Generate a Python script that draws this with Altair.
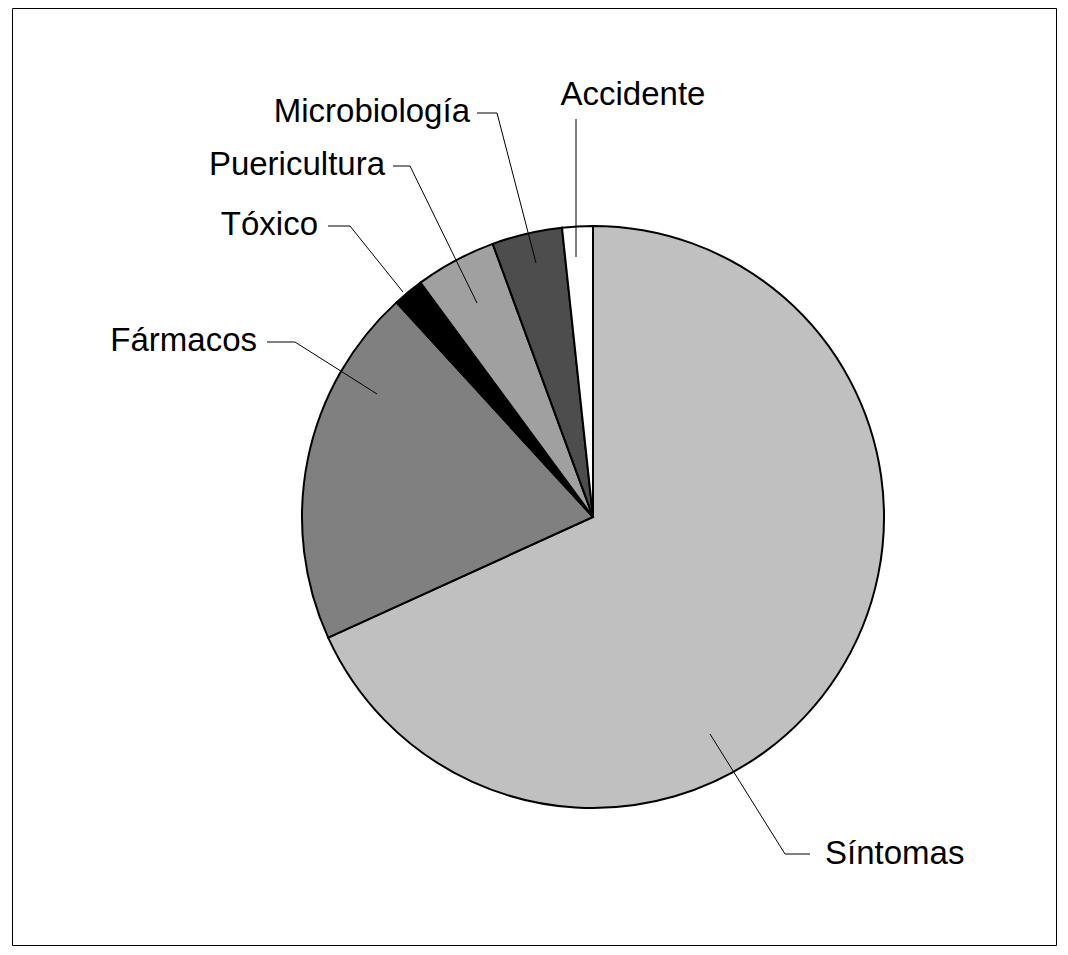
import altair as alt
import pandas as pd

# ---- data ----
categories = ["Síntomas", "Fármacos", "Tóxico", "Puericultura", "Microbiología", "Accidente"]
values = [68.2, 20.0, 1.7, 4.5, 3.9, 1.7]
colors = ["#c0c0c0", "#808080", "#000000", "#a0a0a0", "#4d4d4d", "#ffffff"]

# ---- layout of the labels (pixels relative to the pie centre, y downwards) ----
anchor_x = [117, -216, -190, -116, -57, -17]
anchor_y = [217, -123, -225, -214, -254, -260]
elbow_x = [192, -298, -243, -183, -96, -17]
elbow_y = [337, -175, -291, -351, -404, -398]
end_x = [217, -326, -265, -200, -116, -17]
end_y = [337, -175, -291, -351, -404, -398]
text_x = [232, -336, -275, -208, -123, 40]
text_y = [337, -176, -292, -352, -405, -422]
text_align = ["left", "right", "right", "right", "right", "center"]

W, H = 1044, 937
CX, CY = 581, 509
R = 291
FONT = "Liberation Sans"
FS = 33

pie_df = pd.DataFrame({"cat": categories, "val": values, "idx": list(range(len(categories)))})

line_rows = []
for i, c in enumerate(categories):
    pts = [(anchor_x[i], anchor_y[i]), (elbow_x[i], elbow_y[i]), (end_x[i], end_y[i])]
    for k, (px, py) in enumerate(pts):
        line_rows.append({"cat": c, "k": k, "px": px, "py": py})
line_df = pd.DataFrame(line_rows)

text_df = pd.DataFrame({"cat": categories, "tx": text_x, "ty": text_y, "al": text_align})

xs = alt.Scale(domain=[-CX, W - CX], nice=False, zero=False)
ys = alt.Scale(domain=[H - CY, -CY], nice=False, zero=False)

pie = alt.Chart(pie_df).mark_arc(stroke="black", strokeWidth=2, radius=R).encode(
    theta=alt.Theta("val:Q", stack=True),
    color=alt.Color("cat:N", scale=alt.Scale(domain=categories, range=colors), legend=None),
    order=alt.Order("idx:Q"),
    x=alt.value(CX),
    y=alt.value(CY),
)

leaders = alt.Chart(line_df).mark_line(color="black", strokeWidth=1).encode(
    x=alt.X("px:Q", scale=xs, axis=None),
    y=alt.Y("py:Q", scale=ys, axis=None),
    detail="cat:N",
    order="k:Q",
)

def text_layer(al):
    return alt.Chart(text_df).transform_filter(alt.datum.al == al).mark_text(
        align=al, baseline="middle", font=FONT, fontSize=FS, color="black"
    ).encode(
        x=alt.X("tx:Q", scale=xs, axis=None),
        y=alt.Y("ty:Q", scale=ys, axis=None),
        text="cat:N",
    )

chart = alt.layer(
    pie, leaders, text_layer("left"), text_layer("right"), text_layer("center")
).properties(
    width=W, height=H,
    padding={"left": 4, "top": 0, "right": 3, "bottom": 3},
    background="white",
).configure_view(stroke="black", strokeWidth=1)

chart.save("out.html", embed_options={"renderer": "svg", "actions": False})
